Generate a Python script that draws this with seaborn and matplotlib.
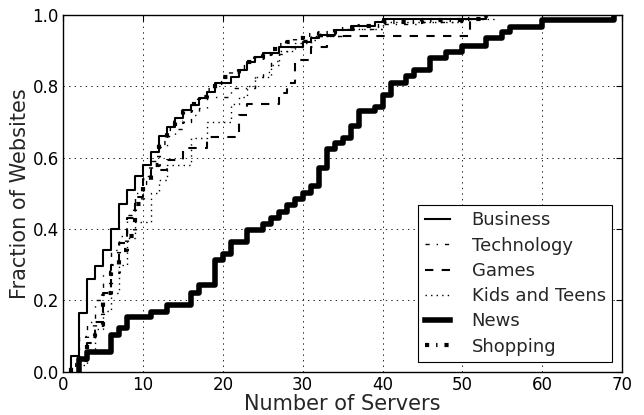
import matplotlib
matplotlib.use("Agg")
import matplotlib.pyplot as plt
import seaborn as sns
import pandas as pd

# ---- data ----
bus_x = [1, 1, 2, 3, 4, 5, 6, 7, 8, 9, 10, 11, 12, 13, 14, 15, 16, 17, 18, 19,
         21, 22, 23, 24, 25, 27, 30, 31, 32, 34, 36, 39, 40, 53]
bus_y = [0, 0.045, 0.165, 0.26, 0.297, 0.34, 0.40, 0.47, 0.51, 0.55, 0.58, 0.615,
         0.66, 0.686, 0.71, 0.734, 0.748, 0.767, 0.785, 0.81, 0.826, 0.846, 0.868,
         0.883, 0.894, 0.91, 0.924, 0.935, 0.945, 0.958, 0.97, 0.98, 0.99, 1.0]

tech_x = [1, 1, 2, 3, 4, 5, 6, 7, 8, 9, 10, 11, 12, 13, 14, 15, 16, 17, 18, 21,
          24, 25, 26, 27, 28, 30, 32, 35, 40, 45, 50, 53]
tech_y = [0, 0.02, 0.10, 0.14, 0.20, 0.27, 0.34, 0.38, 0.44, 0.50, 0.55, 0.59,
          0.63, 0.66, 0.68, 0.70, 0.72, 0.74, 0.77, 0.795, 0.826, 0.84, 0.87, 0.89,
          0.91, 0.93, 0.94, 0.96, 0.975, 0.98, 0.99, 1.0]

games_x = [2, 2, 3, 4, 5, 6, 7, 8, 9, 10, 11, 13, 15, 18, 22, 23, 27, 28, 29, 31, 33, 51]
games_y = [0, 0.03, 0.08, 0.14, 0.22, 0.30, 0.36, 0.43, 0.49, 0.54, 0.566, 0.594,
           0.627, 0.658, 0.72, 0.75, 0.78, 0.81, 0.874, 0.91, 0.94, 1.0]

kids_x = [2, 2, 3, 4, 5, 6, 7, 8, 9, 11, 12, 13, 16, 18, 21, 22, 23, 24, 26, 27,
          29, 31, 35, 40, 50, 54]
kids_y = [0, 0.02, 0.06, 0.12, 0.17, 0.22, 0.30, 0.375, 0.42, 0.50, 0.538, 0.58,
          0.655, 0.70, 0.75, 0.77, 0.80, 0.826, 0.86, 0.90, 0.92, 0.94, 0.96, 0.98,
          0.99, 1.0]

news_x = [2, 2, 3, 6, 7, 8, 11, 13, 16, 17, 19, 20, 21, 23, 25, 26, 27, 28, 29, 30,
          31, 32, 33, 34, 35, 36, 37, 39, 40, 41, 43, 44, 46, 48, 50, 53, 55, 56, 60, 69]
news_y = [0, 0.036, 0.056, 0.104, 0.123, 0.155, 0.168, 0.188, 0.221, 0.242, 0.314,
          0.33, 0.364, 0.398, 0.415, 0.432, 0.449, 0.467, 0.484, 0.50, 0.52, 0.571,
          0.625, 0.64, 0.655, 0.69, 0.73, 0.742, 0.776, 0.81, 0.83, 0.845, 0.88,
          0.897, 0.914, 0.934, 0.952, 0.966, 0.986, 1.0]

shop_x = [1, 1, 2, 3, 4, 5, 6, 7, 8, 9, 10, 11, 12, 13, 14, 15, 16, 17, 18, 19, 20,
          21, 22, 23, 24, 25, 26, 27, 28, 29, 30, 32, 34, 37, 40, 45, 50, 53]
shop_y = [0, 0.02, 0.04, 0.10, 0.13, 0.22, 0.28, 0.34, 0.38, 0.47, 0.53, 0.58, 0.64,
          0.68, 0.70, 0.73, 0.75, 0.77, 0.79, 0.81, 0.825, 0.84, 0.855, 0.868, 0.88,
          0.89, 0.905, 0.916, 0.924, 0.935, 0.944, 0.95, 0.96, 0.97, 0.98, 0.985,
          0.99, 1.0]

labels = ["Business", "Technology", "Games", "Kids and Teens", "News", "Shopping"]
x_ticks = [0, 10, 20, 30, 40, 50, 60, 70]
y_ticks = [0.0, 0.2, 0.4, 0.6, 0.8, 1.0]

# ---- style ----
sns.set_theme(style="white")
plt.rcParams.update({
    "font.family": ["DejaVu Sans"],
    "lines.scale_dashes": False,
    "lines.dashed_pattern": [6, 6],
    "lines.dashdot_pattern": [3, 5, 1, 5],
    "lines.dotted_pattern": [1, 3],
    "lines.dash_capstyle": "butt",
    "lines.solid_capstyle": "projecting",
    "xtick.direction": "in",
    "ytick.direction": "in",
    "xtick.top": True,
    "ytick.right": True,
    "xtick.major.size": 4,
    "ytick.major.size": 4,
    "xtick.major.width": 0.8,
    "ytick.major.width": 0.8,
    "xtick.color": "black",
    "ytick.color": "black",
    "axes.edgecolor": "black",
    "axes.linewidth": 1.0,
})

fig = plt.figure(figsize=(6.44, 4.15), dpi=100)
ax = fig.add_axes([0.098, 0.104, 0.868, 0.860])

series = [
    (labels[0], bus_x, bus_y, "-", 1.5),
    (labels[1], tech_x, tech_y, "-.", 1.0),
    (labels[2], games_x, games_y, "--", 1.5),
    (labels[3], kids_x, kids_y, ":", 1.0),
    (labels[4], news_x, news_y, "-", 4.0),
    (labels[5], shop_x, shop_y, "-.", 3.0),
]

for name, xs, ys, ls, lw in series:
    df = pd.DataFrame({"x": xs, "y": ys})
    sns.lineplot(data=df, x="x", y="y", ax=ax, color="black", linestyle=ls,
                 linewidth=lw, drawstyle="steps-post", estimator=None,
                 sort=False, label=name)

ax.set_xlim(0, 70)
ax.set_ylim(0, 1.0)
ax.set_xticks(x_ticks)
ax.set_yticks(y_ticks)
ax.set_yticklabels([f"{v:.1f}" for v in y_ticks])
ax.tick_params(axis="x", labelsize=12, pad=3)
ax.tick_params(axis="y", labelsize=12, pad=3)
ax.grid(True, linestyle=":", color="black", linewidth=0.6)
ax.set_xlabel("Number of Servers", fontsize=15, labelpad=0)
ax.set_ylabel("Fraction of Websites", fontsize=15, labelpad=2)

leg = ax.legend(loc="lower right", fontsize=13, frameon=True, fancybox=False,
                edgecolor="black", handlelength=1.4, handletextpad=1.2,
                labelspacing=0.4, borderpad=0.35, borderaxespad=0.55,
                framealpha=1.0)
leg.get_frame().set_linewidth(0.8)

fig.savefig("out.png", dpi=100)
